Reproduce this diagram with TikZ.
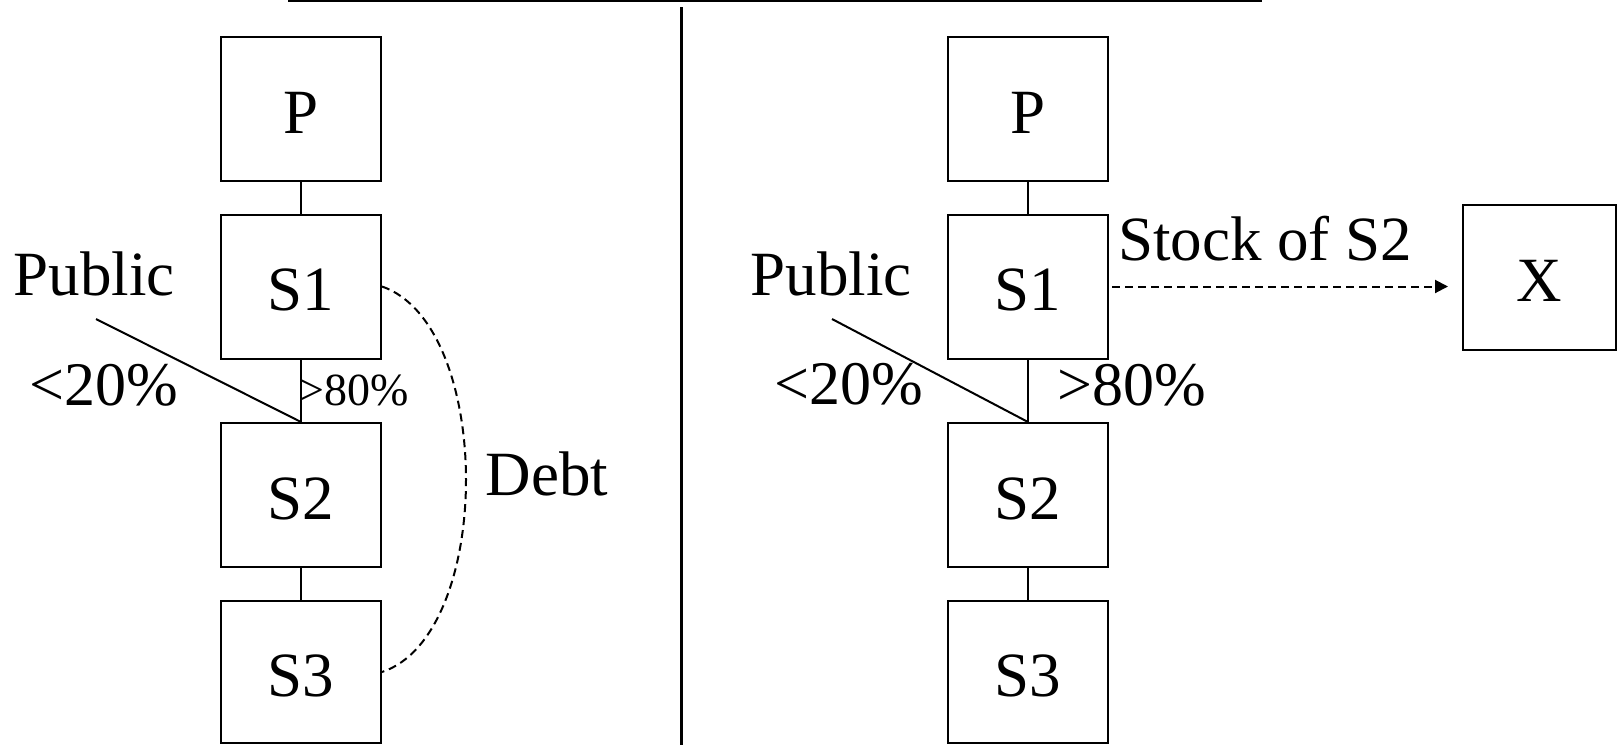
\documentclass[tikz,border=0pt]{standalone}
\usepackage{fontspec}
\setmainfont{Liberation Serif}
\usetikzlibrary{arrows.meta}
\begin{document}
\begin{tikzpicture}[x=1pt,y=-1pt,
  box/.style={draw,line width=2pt,minimum width=160pt,minimum height=144pt,inner sep=0pt,text height=49pt,text depth=1pt,font=\fontsize{63}{70}\selectfont},
  lbl/.style={inner sep=0pt,anchor=base,font=\fontsize{63}{70}\selectfont},
  pct/.style={inner sep=0pt,anchor=base,font=\fontsize{62}{68}\selectfont},
  smallpct/.style={inner sep=0pt,anchor=base,font=\fontsize{46}{52}\selectfont},
  link/.style={line width=2pt},
  dashlink/.style={line width=2pt,dash pattern=on 8pt off 5pt}]
\useasboundingbox (0,0) rectangle (1618,745);

% top rule and divider
\coordinate (ruleL) at (288,1);
\coordinate (ruleR) at (1262,1);
\draw[line width=2pt] (ruleL) -- (ruleR);
\coordinate (divT) at (681,7);
\coordinate (divB) at (681,745);
\draw[line width=3pt] (divT) -- (divB);

% left panel
\node[box] (lP)  at (301,109) {P};
\node[box] (lS1) at (301,286.5) {S1};
\node[box] (lS2) at (301,495) {S2};
\node[box,minimum height=142pt] (lS3) at (301,672) {S3};
\draw[link] (lP) -- (lS1);
\draw[link] (lS1) -- (lS2);
\draw[link] (lS2) -- (lS3);
\node[lbl] (lPub) at (94,295) {Public};
\coordinate (lPubEnd) at (96,319);
\draw[link] (lPubEnd) -- (lS2.north);
\node[pct] (l20) at (104,405) {<20\%};
\node[smallpct] (l80) at (354,405) {>80\%};
\draw[dashlink] (lS1.east) .. controls (494,325) and (494,635) .. (lS3.east);
\node[lbl] (debt) at (547,495) {Debt};

% right panel
\node[box] (rP)  at (1028,109) {P};
\node[box] (rS1) at (1028,286.5) {S1};
\node[box] (rS2) at (1028,495) {S2};
\node[box,minimum height=142pt] (rS3) at (1028,672) {S3};
\draw[link] (rP) -- (rS1);
\draw[link] (rS1) -- (rS2);
\draw[link] (rS2) -- (rS3);
\node[lbl] (rPub) at (831,295) {Public};
\coordinate (rPubEnd) at (832,319);
\draw[link] (rPubEnd) -- (rS2.north);
\node[pct] (r20) at (849,404) {<20\%};
\node[pct] (r80) at (1132,405) {>80\%};
\node[box,minimum width=153pt,minimum height=145pt] (X) at (1539.5,277.5) {X};
\node[lbl] (stock) at (1265,260) {Stock of S2};
\coordinate (arrTip) at (1448,286.5);
\draw[dashlink,-{Triangle[length=13pt,width=13pt]}] ([xshift=3pt]rS1.east) -- (arrTip);
\end{tikzpicture}
\end{document}
